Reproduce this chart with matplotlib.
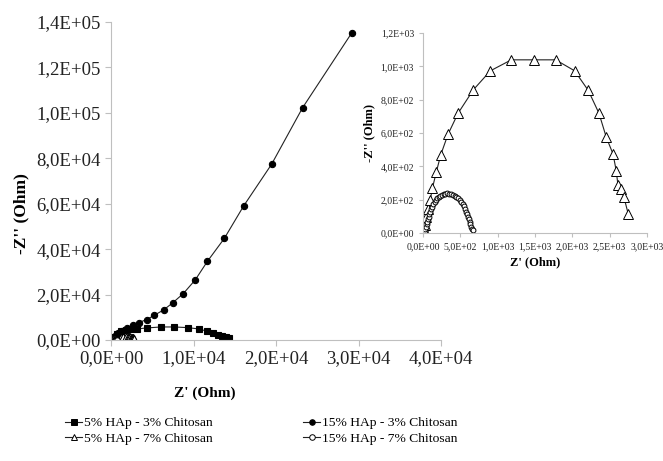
import matplotlib
matplotlib.use('Agg')
import matplotlib.pyplot as plt
from matplotlib.lines import Line2D
from matplotlib.ticker import FuncFormatter, MultipleLocator

plt.rcParams['font.family'] = ['Liberation Serif', 'DejaVu Serif']

# 5% HAp - 3% Chitosan (filled squares)
hap5_ch3_x = [0, 15, 30, 60, 300, 700, 1200, 1800, 2400, 3110, 4320, 6060, 7680,
              9290, 10670, 11680, 12400, 13010, 13500, 13940, 14340]
hap5_ch3_y = [0, 60, 130, 220, 1500, 2800, 3800, 4400, 4700, 4860, 5300, 5740, 5740,
              5450, 4860, 3830, 3090, 2210, 1620, 1180, 880]

# 15% HAp - 3% Chitosan (filled circles)
hap15_ch3_x = [0, 40, 200, 485, 890, 1290, 1940, 2630, 3350, 4320, 5250,
               6380, 7475, 8770, 10220, 11680, 13740, 16080, 19475, 23230, 29170]
hap15_ch3_y = [0, 150, 880, 1910, 3090, 4120, 5150, 6480, 7650, 8980, 10890,
               13250, 16340, 20460, 26500, 34600, 44750, 59030, 77430, 102300, 135140]

# 5% HAp - 7% Chitosan (open triangles)
hap5_ch7_x = [5, 9, 15, 27, 45, 67, 98, 125, 179, 237, 335, 469, 674, 902, 1183, 1491, 1777,
              2031, 2214, 2357, 2455, 2545, 2589, 2610, 2650, 2692, 2750]
hap5_ch7_y = [0, 6, 20, 46, 96, 146, 200, 267, 367, 468, 592, 718, 859, 973, 1039, 1039, 1039,
              973, 855, 718, 574, 474, 371, 290, 265, 213, 112]

# 15% HAp - 7% Chitosan (open circles)
hap15_ch7_x = [10, 14, 18, 22, 27, 33, 40, 48, 58, 66, 76, 86, 98, 110, 125, 140, 156, 172,
               188, 210, 232, 254, 277, 300, 326, 352, 380, 402, 424, 448, 473, 493, 513,
               530, 545, 563, 580, 592, 603, 614, 625, 636, 647, 658, 670]
hap15_ch7_y = [0, 3, 6, 9, 12, 24, 36, 51, 66, 81, 96, 111, 126, 142, 157, 172, 187, 197,
               207, 215, 223, 228, 233, 235, 237, 235, 233, 228, 223, 215, 207, 197, 187,
               174, 160, 143, 126, 111, 96, 81, 66, 51, 36, 26, 16]

series = [
    ("5% HAp - 3% Chitosan", hap5_ch3_x, hap5_ch3_y, dict(marker='s', ms=4, mfc='black')),
    ("5% HAp - 7% Chitosan", hap5_ch7_x, hap5_ch7_y, dict(marker='^', ms=7, mfc='white')),
    ("15% HAp - 3% Chitosan", hap15_ch3_x, hap15_ch3_y, dict(marker='o', ms=4.5, mfc='black')),
    ("15% HAp - 7% Chitosan", hap15_ch7_x, hap15_ch7_y, dict(marker='o', ms=4, mfc='white')),
]

def sci_comma(v, pos):
    return ("%.1E" % v).replace('.', ',')

grey = '#bfbfbf'

def style_axes(ax, size):
    for s in ['top', 'right']:
        ax.spines[s].set_visible(False)
    for s in ['left', 'bottom']:
        ax.spines[s].set_color(grey)
        ax.spines[s].set_linewidth(0.8)
    ax.tick_params(direction='out', color=grey, length=4, width=0.8,
                   labelsize=size, colors='#222222')
    ax.xaxis.set_major_formatter(FuncFormatter(sci_comma))
    ax.yaxis.set_major_formatter(FuncFormatter(sci_comma))

fig = plt.figure(figsize=(6.63, 4.61), dpi=100)
W, H = 663, 461

ax = fig.add_axes([111 / W, 1 - 340 / H, 330 / W, 318 / H])
handles = []
for name, x, y, kw in series:
    ax.plot(x, y, color='#222222', lw=0.8, mec='black', mew=0.8, **kw)
    # smaller markers for the legend keys
    hk = dict(kw)
    hk['ms'] = 4
    handles.append(Line2D([], [], color='#222222', lw=0.8, mec='black', mew=0.7,
                          label=name, **hk))
ax.set_xlim(0, 40000)
ax.set_ylim(0, 140000)
ax.xaxis.set_major_locator(MultipleLocator(10000))
ax.yaxis.set_major_locator(MultipleLocator(20000))
style_axes(ax, 13.5)
ax.set_xlabel("Z' (Ohm)", fontsize=11, fontweight='bold')
ax.set_ylabel("-Z'' (Ohm)", fontsize=12.5, fontweight='bold')
ax.xaxis.set_label_coords((205 - 111) / 330, -(387 - 340) / 318)
ax.yaxis.set_label_coords(-(111 - 29) / 330, (340 - 214) / 318)

# inset: only the 7% chitosan curves fit its scale
ins = fig.add_axes([423 / W, 1 - 233 / H, 224 / W, 200 / H])
ins.set_facecolor('white')
for name, x, y, kw in series:
    if '7%' not in name:
        continue
    kw2 = dict(kw)
    if kw2['marker'] == 'o':
        kw2['ms'] = 3.5
    ins.plot(x, y, color='#222222', lw=0.8, mec='black', mew=0.7, **kw2)
ins.set_xlim(0, 3000)
ins.set_ylim(0, 1200)
ins.xaxis.set_major_locator(MultipleLocator(500))
ins.yaxis.set_major_locator(MultipleLocator(200))
style_axes(ins, 7)
ins.tick_params(length=3)
ins.set_xlabel("Z' (Ohm)", fontsize=9, fontweight='bold', labelpad=4)
ins.set_ylabel("-Z'' (Ohm)", fontsize=9, fontweight='bold', labelpad=4)

fig.legend(handles=handles, loc='center', bbox_to_anchor=(261 / W, 1 - 431 / H),
           ncol=2, frameon=False, fontsize=9.7, handlelength=1.3, handletextpad=0.1,
           columnspacing=6.7, labelspacing=0.25, borderaxespad=0)

fig.savefig('out.png', dpi=100)
